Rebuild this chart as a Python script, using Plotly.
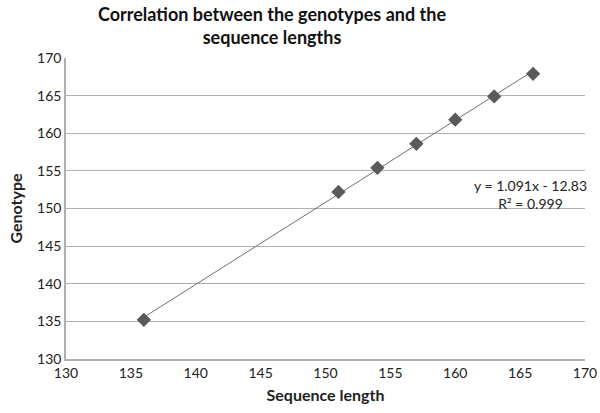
import plotly.graph_objects as go

seq_length = [136, 151, 154, 157, 160, 163, 166]
genotype = [135.2, 152.2, 155.4, 158.6, 161.8, 164.9, 167.9]
slope, intercept = 1.091, -12.83
x_ticks = [130, 135, 140, 145, 150, 155, 160, 165, 170]
y_ticks = [130, 135, 140, 145, 150, 155, 160, 165, 170]

fit_x = [min(seq_length), max(seq_length)]
fit_y = [slope * v + intercept for v in fit_x]

font_family = "Lato, Open Sans, sans-serif"

fig = go.Figure()
fig.add_trace(go.Scatter(x=fit_x, y=fit_y, mode="lines",
                         line=dict(color="#707070", width=1), showlegend=False))
fig.add_trace(go.Scatter(x=seq_length, y=genotype, mode="markers",
                         marker=dict(symbol="diamond", size=11, color="#5a5a5a"),
                         showlegend=False))

fig.add_annotation(x=165.8, y=151.8, text="y = 1.091x - 12.83<br>R² = 0.999",
                   showarrow=False, align="center",
                   font=dict(family=font_family, size=14, color="#222"))

fig.add_annotation(x=0.397, y=1, xref="paper", yref="paper", xanchor="center",
                   yanchor="bottom", yshift=8, showarrow=False,
                   text="<b>Correlation between the genotypes and the<br>sequence lengths</b>",
                   font=dict(family=font_family, size=18, color="#111"))

fig.update_layout(
    width=600, height=413,
    margin=dict(l=66, r=15, t=58, b=54),
    paper_bgcolor="white", plot_bgcolor="white",
    font=dict(family=font_family, size=14, color="#222"),
    xaxis=dict(range=[130, 170], tickvals=x_ticks, showgrid=False,
               showline=True, linecolor="#b0b0b0", linewidth=1.5,
               ticks="", zeroline=False, automargin=False,
               title=dict(text="<b>Sequence length</b>", font=dict(size=16), standoff=10)),
    yaxis=dict(range=[130, 170], tickvals=y_ticks, showgrid=True,
               gridcolor="#b0b0b0", gridwidth=1,
               showline=True, linecolor="#b0b0b0", linewidth=1.5,
               ticks="", zeroline=False, automargin=False,
               title=dict(text="<b>Genotype</b>", font=dict(size=16), standoff=10)),
)

fig.write_html("out.html", config={"displayModeBar": False},
               post_script="document.body.style.margin='0';")
